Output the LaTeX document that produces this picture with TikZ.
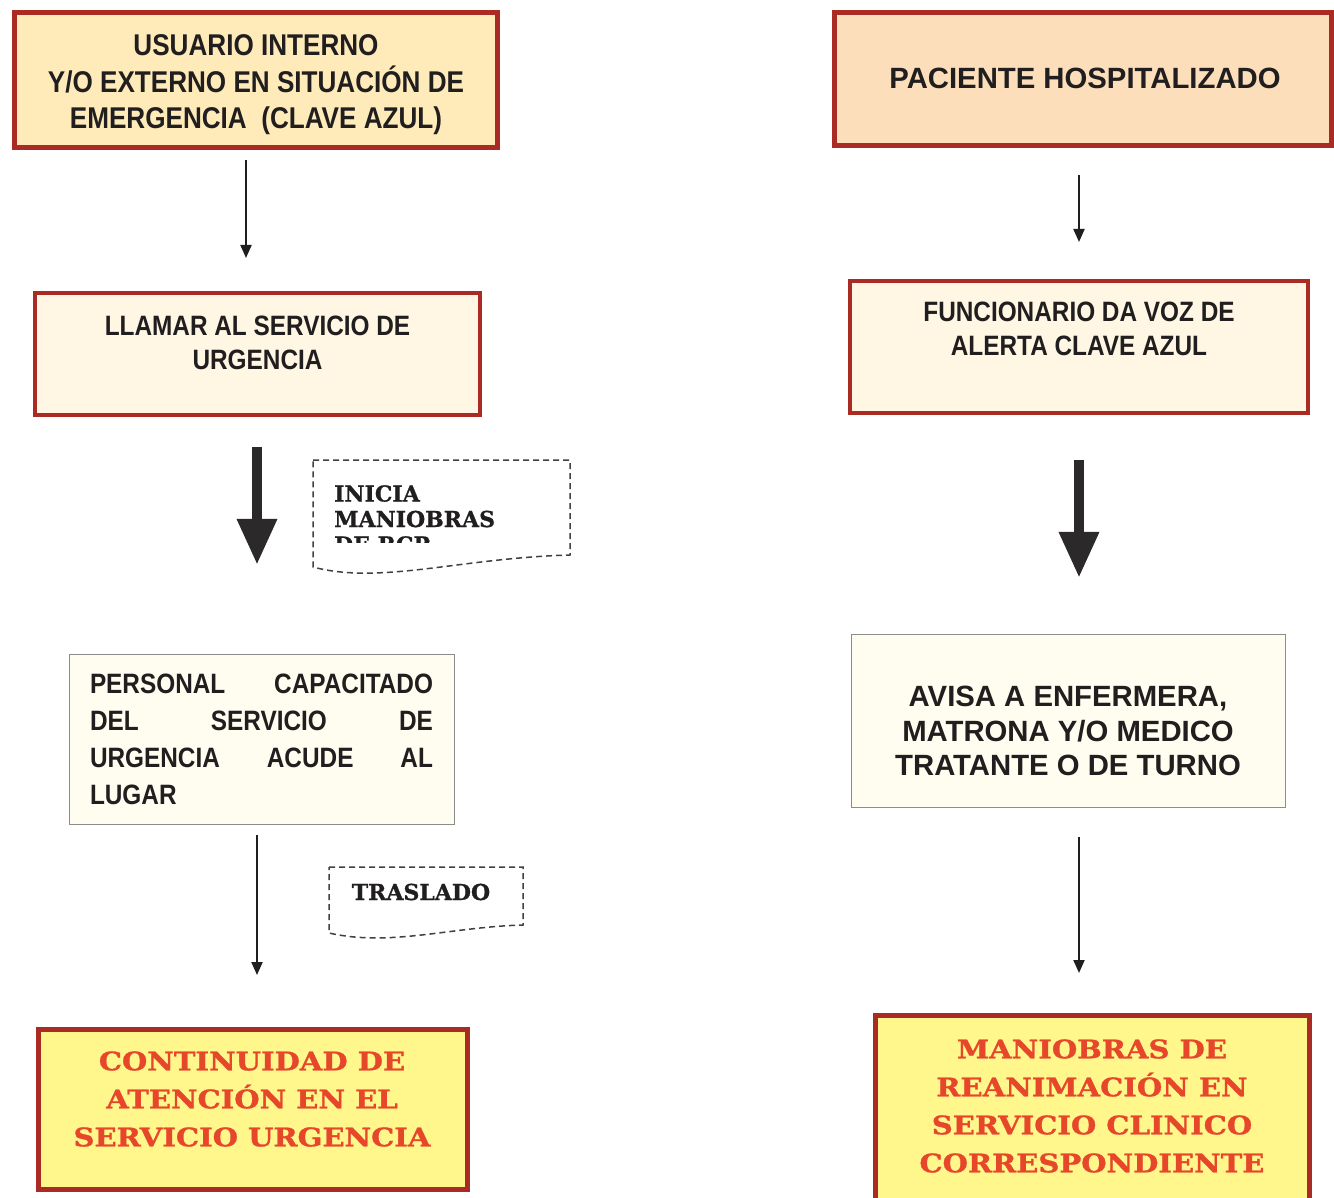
\documentclass[tikz,border=0pt]{standalone}
\usepackage{fontspec}
\setmainfont{Liberation Sans}
\newfontfamily\narrowf[FakeStretch=0.87]{Liberation Sans}
\newfontfamily\serifw[FakeStretch=1.14,FakeBold=1.2]{DejaVu Serif}
\newfontfamily\serifn[FakeBold=0.8]{DejaVu Serif}
\usetikzlibrary{arrows.meta}
\definecolor{bred}{RGB}{170,42,36}
\definecolor{peach}{RGB}{255,234,186}
\definecolor{peachb}{RGB}{252,222,186}
\definecolor{cream}{RGB}{255,247,228}
\definecolor{creamb}{RGB}{255,252,240}
\definecolor{ylw}{RGB}{255,246,140}
\definecolor{rtext}{RGB}{230,70,42}
\definecolor{ink}{RGB}{32,30,30}
\definecolor{gline}{RGB}{140,140,140}
\tikzset{
  redbox/.style={draw=bred, line width=5pt, inner sep=0pt},
  midbox/.style={draw=bred, line width=4pt, inner sep=0pt, fill=cream},
  greybox/.style={draw=gline, line width=1.5pt, inner sep=0pt, fill=creamb},
  narrowtxt/.style={text=ink, inner sep=0pt, align=center, font=\narrowf\bfseries\fontsize{30}{36.5}\selectfont},
  widetxt/.style={text=ink, inner sep=0pt, align=center, font=\bfseries\fontsize{29.3}{34.5}\selectfont},
  redtxt/.style={text=rtext, inner sep=0pt, align=center, font=\serifw\bfseries\fontsize{25.5}{38}\selectfont},
  notetxt/.style={text=ink, inner sep=0pt, font=\serifn\bfseries\fontsize{22}{25.5}\selectfont},
  notebox/.style={draw=ink!85, line width=1.5pt, dash pattern=on 6pt off 4pt},
  thinarr/.style={draw=ink, line width=2pt, -{Triangle[length=13pt,width=11pt]}},
  fatarr/.style={draw=ink!95, line width=10pt, -{Triangle[length=46pt,width=38pt]}}
}
\begin{document}
\begin{tikzpicture}[x=1pt,y=-1pt]
\useasboundingbox (0,0) rectangle (1334,1198);
% columns
\coordinate (cA) at (246,0);
\coordinate (cB) at (257,0);
\coordinate (cR) at (1079,0);
% left column boxes
\node[redbox, fill=peach, minimum width=483pt, minimum height=135pt] (b1) at (256,80) {};
\node[narrowtxt] (t1) at (256,85) {USUARIO INTERNO\\Y/O EXTERNO EN SITUACIÓN DE\\EMERGENCIA\ \ (CLAVE AZUL)};
\node[midbox, minimum width=445pt, minimum height=122pt] (b3) at (257.5,354) {};
\node[narrowtxt, font=\narrowf\bfseries\fontsize{28}{34}\selectfont] (t3) at (257.5,343) {LLAMAR AL SERVICIO DE\\URGENCIA};
\node[greybox, minimum width=385pt, minimum height=170pt] (b5) at (262,739.5) {};
\node[text=ink, inner sep=0pt, text width=343pt, align=justify, font=\narrowf\bfseries\fontsize{28}{37}\selectfont] (t5) at (261.5,739)
  {\hyphenpenalty=10000 PERSONAL CAPACITADO\linebreak DEL SERVICIO DE\linebreak URGENCIA ACUDE AL\linebreak LUGAR};
\node[redbox, fill=ylw, minimum width=429pt, minimum height=160pt] (b7) at (253,1109.5) {};
\node[redtxt] (t7) at (252,1099) {CONTINUIDAD DE\\ATENCIÓN EN EL\\SERVICIO URGENCIA};
% right column boxes
\node[redbox, fill=peachb, minimum width=497pt, minimum height=133pt] (b2) at (1083,79) {};
\node[widetxt] (t2) at (1085,78) {PACIENTE HOSPITALIZADO};
\node[midbox, minimum width=458pt, minimum height=132pt] (b4) at (1079,347) {};
\node[narrowtxt, font=\narrowf\bfseries\fontsize{28}{34}\selectfont] (t4) at (1079,329) {FUNCIONARIO DA VOZ DE\\ALERTA CLAVE AZUL};
\node[greybox, minimum width=434pt, minimum height=173pt] (b6) at (1068.5,721) {};
\node[widetxt] (t6) at (1068,731) {AVISA A ENFERMERA,\\MATRONA Y/O MEDICO\\TRATANTE O DE TURNO};
\node[redbox, fill=ylw, minimum width=434pt, minimum height=190pt] (b8) at (1092.5,1110.5) {};
\node[redtxt] (t8) at (1092,1106) {MANIOBRAS DE\\REANIMACIÓN EN\\SERVICIO CLINICO\\CORRESPONDIENTE};
% note shapes
\draw[notebox] (313,460) -- (570,460) -- (570,555) .. controls (460,558) and (380,585) .. (313,567) -- cycle;
\begin{scope}
\clip (300,450) rectangle (580,542);
\node[notetxt, align=left, anchor=north west] (n1) at (334,485) {INICIA\\MANIOBRAS\\DE RCP};
\end{scope}
\draw[notebox] (329,867) -- (523,867) -- (523,925) .. controls (450,927) and (390,947) .. (329,933) -- cycle;
\node[notetxt] (n2) at (421,892) {TRASLADO};
% connectors
\draw[thinarr, shorten <=10pt, shorten >=33pt] (b1.south -| cA) -- (b3.north -| cA);
\draw[fatarr, shorten <=30pt, shorten >=89pt] (b3.south -| cB) -- (b5.north -| cB);
\draw[thinarr, shorten <=10pt, shorten >=52pt] (b5.south -| cB) -- (b7.north -| cB);
\draw[thinarr, shorten <=27pt, shorten >=37pt] (b2.south -| cR) -- (b4.north -| cR);
\draw[fatarr, shorten <=45pt, shorten >=56pt] (b4.south -| cR) -- (b6.north -| cR);
\draw[thinarr, shorten <=29pt, shorten >=40pt] (b6.south -| cR) -- (b8.north -| cR);
\end{tikzpicture}
\end{document}
